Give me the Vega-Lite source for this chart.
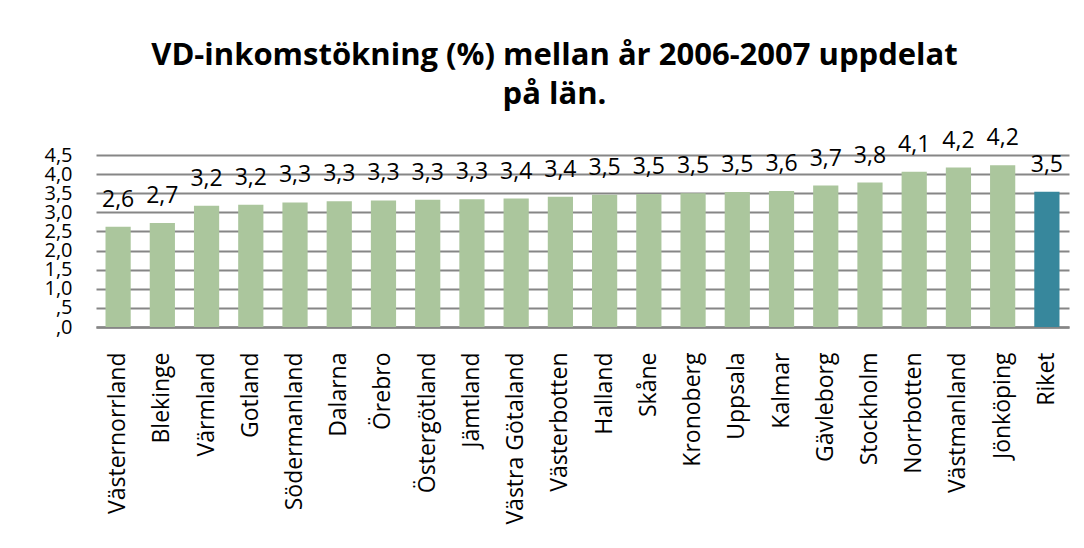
{
  "$schema": "https://vega.github.io/schema/vega-lite/v6.json",
  "autosize": "none",
  "width": 973,
  "height": 172,
  "padding": {"left": 96, "right": 15, "top": 155, "bottom": 221},
  "background": "white",
  "title": {
    "text": ["VD-inkomstökning (%) mellan år 2006-2007 uppdelat", "på län."],
    "font": "Open Sans",
    "fontSize": 31,
    "fontWeight": "bold",
    "color": "#000000",
    "anchor": "middle",
    "dx": -28,
    "lineHeight": 39,
    "offset": 16
  },
  "config": {
    "locale": {"number": {"decimal": ",", "thousands": " ", "grouping": [3], "currency": ["", " kr"]}},
    "view": {"stroke": null},
    "font": "Open Sans"
  },
  "data": {
    "values": [
      {"lan": "Västernorrland", "v": 2.62, "typ": "län"},
      {"lan": "Blekinge", "v": 2.72, "typ": "län"},
      {"lan": "Värmland", "v": 3.17, "typ": "län"},
      {"lan": "Gotland", "v": 3.2, "typ": "län"},
      {"lan": "Södermanland", "v": 3.26, "typ": "län"},
      {"lan": "Dalarna", "v": 3.29, "typ": "län"},
      {"lan": "Örebro", "v": 3.31, "typ": "län"},
      {"lan": "Östergötland", "v": 3.33, "typ": "län"},
      {"lan": "Jämtland", "v": 3.34, "typ": "län"},
      {"lan": "Västra Götaland", "v": 3.36, "typ": "län"},
      {"lan": "Västerbotten", "v": 3.41, "typ": "län"},
      {"lan": "Halland", "v": 3.46, "typ": "län"},
      {"lan": "Skåne", "v": 3.48, "typ": "län"},
      {"lan": "Kronoberg", "v": 3.5, "typ": "län"},
      {"lan": "Uppsala", "v": 3.53, "typ": "län"},
      {"lan": "Kalmar", "v": 3.56, "typ": "län"},
      {"lan": "Gävleborg", "v": 3.7, "typ": "län"},
      {"lan": "Stockholm", "v": 3.78, "typ": "län"},
      {"lan": "Norrbotten", "v": 4.06, "typ": "län"},
      {"lan": "Västmanland", "v": 4.17, "typ": "län"},
      {"lan": "Jönköping", "v": 4.23, "typ": "län"},
      {"lan": "Riket", "v": 3.54, "typ": "riket"}
    ]
  },
  "encoding": {
    "x": {
      "field": "lan",
      "type": "nominal",
      "sort": null,
      "scale": {"paddingInner": 0.43, "paddingOuter": 0.215},
      "axis": {
        "title": null,
        "labelAngle": -90,
        "labelFont": "Open Sans",
        "labelFontSize": 23,
        "labelColor": "#000000",
        "labelPadding": 25,
        "ticks": false,
        "domainColor": "#868686",
        "domainWidth": 2.5,
        "labelOverlap": false
      }
    },
    "y": {
      "field": "v",
      "type": "quantitative",
      "scale": {"domain": [0, 4.5], "nice": false},
      "axis": {
        "title": null,
        "values": [0, 0.5, 1, 1.5, 2, 2.5, 3, 3.5, 4, 4.5],
        "labelExpr": "datum.value < 1 ? ',' + format(datum.value * 10, 'd') : replace(format(datum.value, '.1f'), '.', ',')",
        "labelFont": "Open Sans",
        "labelFontSize": 20,
        "labelColor": "#000000",
        "labelPadding": 24,
        "labelOverlap": false,
        "ticks": false,
        "domain": false,
        "grid": true,
        "gridColor": "#868686",
        "gridWidth": 2
      }
    }
  },
  "layer": [
    {
      "mark": {"type": "bar"},
      "encoding": {
        "color": {
          "field": "typ",
          "type": "nominal",
          "scale": {"domain": ["län", "riket"], "range": ["#abc69d", "#37879c"]},
          "legend": null
        }
      }
    },
    {
      "mark": {"type": "text", "baseline": "middle", "dy": -27, "font": "Open Sans", "fontSize": 23, "color": "#000000"},
      "encoding": {
        "text": {"field": "v", "type": "quantitative", "format": ".1f"}
      }
    }
  ]
}
